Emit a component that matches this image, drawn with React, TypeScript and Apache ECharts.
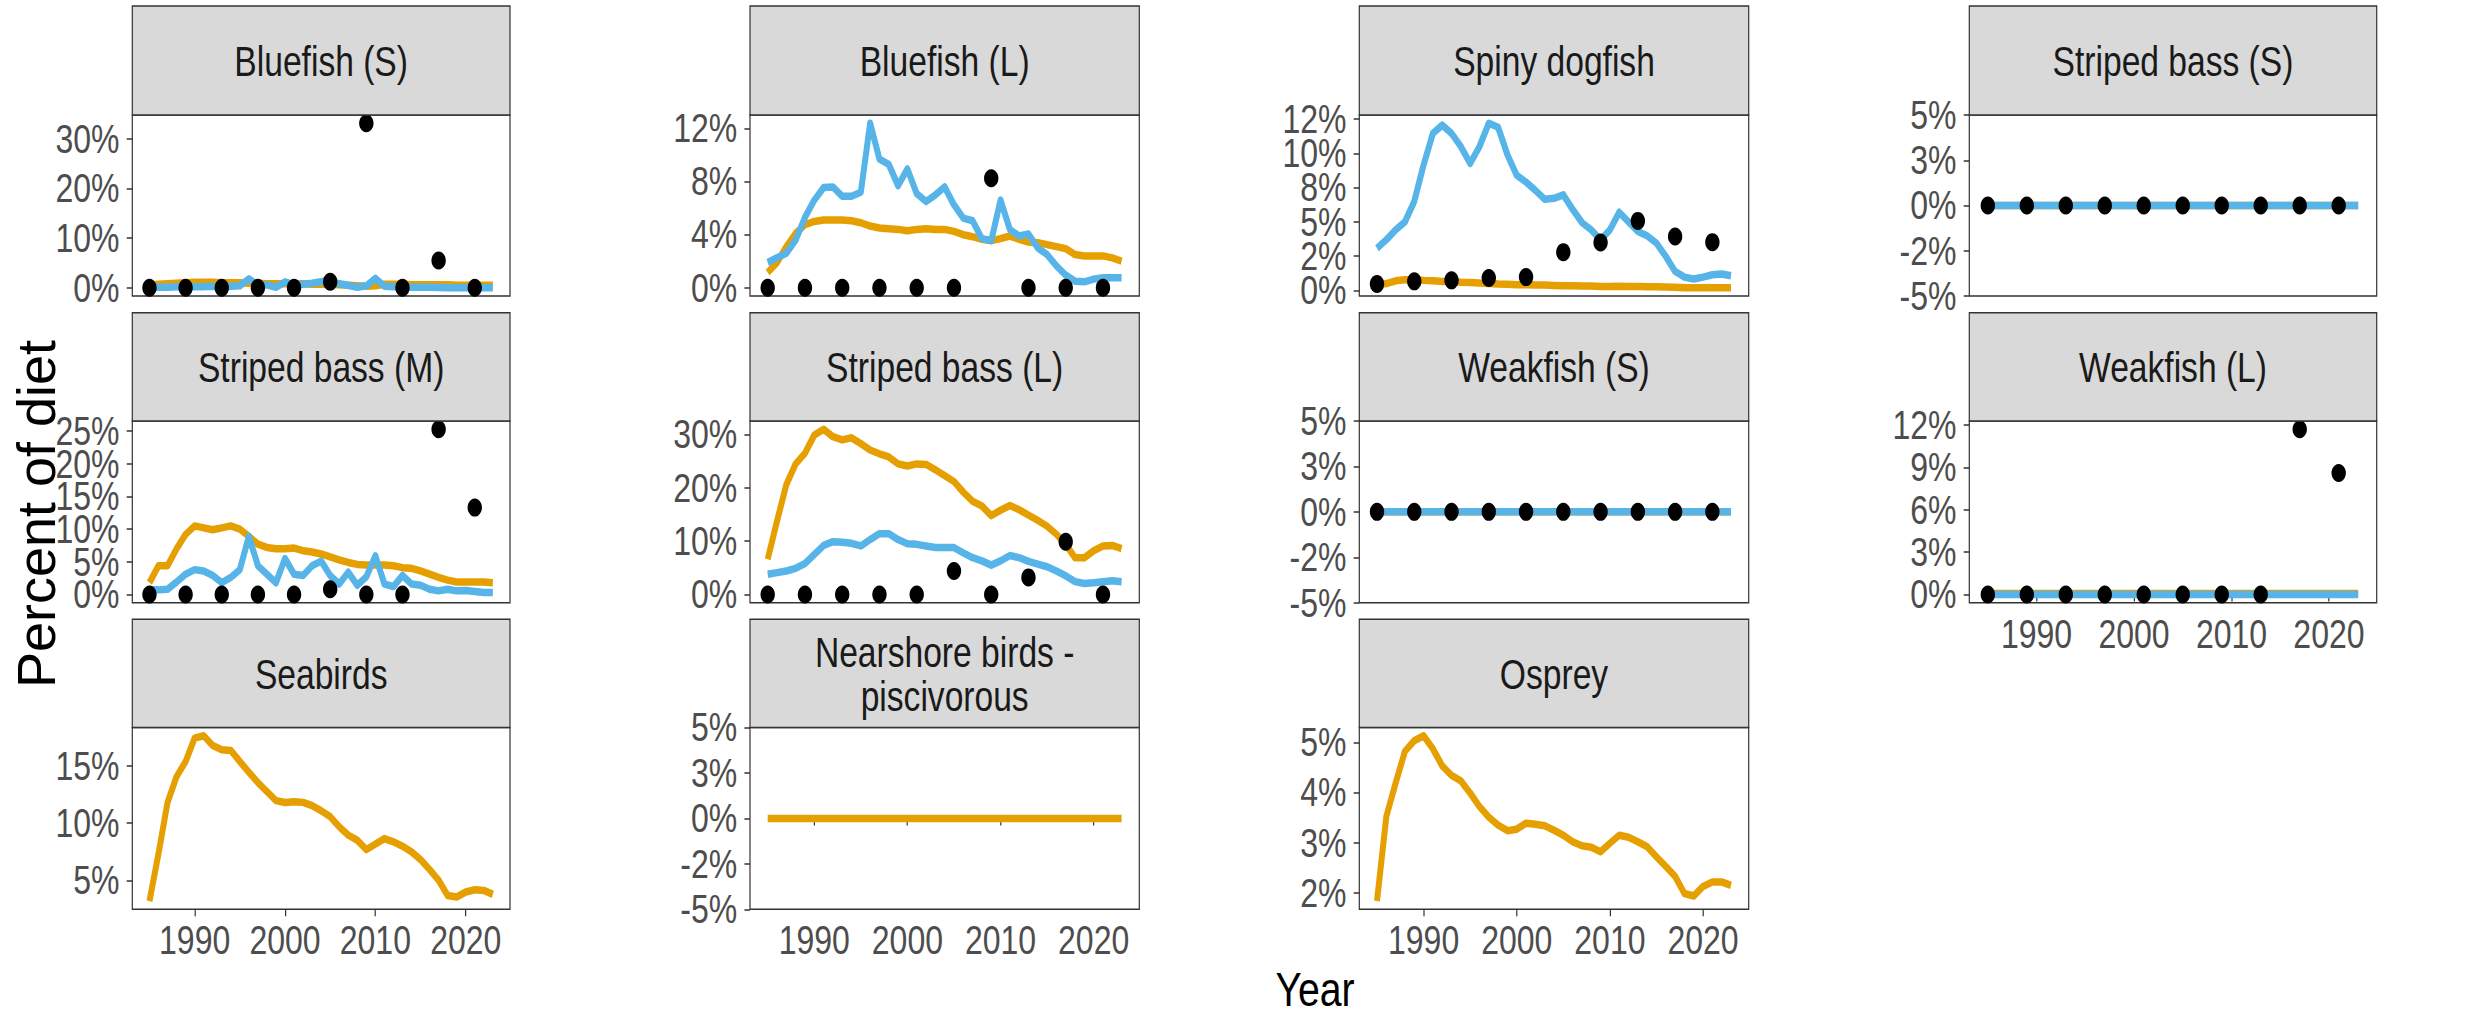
import React, { useEffect, useRef } from "react";
import * as echarts from "echarts";

// ---------------- DATA ----------------
const years = [
  1985, 1986, 1987, 1988, 1989, 1990, 1991, 1992, 1993, 1994,
  1995, 1996, 1997, 1998, 1999, 2000, 2001, 2002, 2003, 2004,
  2005, 2006, 2007, 2008, 2009, 2010, 2011, 2012, 2013, 2014,
  2015, 2016, 2017, 2018, 2019, 2020, 2021, 2022, 2023,
];
const surveyYears = [1985, 1989, 1993, 1997, 2001, 2005, 2009, 2013, 2017, 2021];

const xTickValues = [1990, 2000, 2010, 2020];
const xTickLabels = ["1990", "2000", "2010", "2020"];

const zeroLine = [
  0, 0, 0, 0, 0, 0, 0, 0, 0, 0,
  0, 0, 0, 0, 0, 0, 0, 0, 0, 0,
  0, 0, 0, 0, 0, 0, 0, 0, 0, 0,
  0, 0, 0, 0, 0, 0, 0, 0, 0,
];
const zeroObs = [0, 0, 0, 0, 0, 0, 0, 0, 0, 0];

// Bluefish (S)
const bluefishS_orange = [0.5, 0.7, 0.8, 0.9, 1.0, 1.1, 1.1, 1.1, 1.0, 1.0, 1.0, 0.9, 0.9, 0.8, 0.8, 0.8, 0.8, 0.8, 0.7, 0.7, 0.7, 0.6, 0.5, 0.4, 0.3, 0.4, 0.7, 0.7, 0.7, 0.6, 0.6, 0.6, 0.6, 0.6, 0.5, 0.5, 0.5, 0.5, 0.5];
const bluefishS_blue = [0.1, 0.1, 0.1, 0.2, 0.2, 0.2, 0.2, 0.3, 0.2, 0.3, 0.4, 1.8, 0.5, 0.6, 0.1, 1.2, 0.6, 0.7, 0.9, 1.2, 1.4, 0.8, 0.5, 0.1, 0.4, 1.9, 0.3, 0.2, 0.2, 0.1, 0.1, 0.1, 0.05, 0, 0, 0, 0, 0, 0];
const bluefishS_obs = [0, 0, 0, 0, 0, 1.2, 33.2, 0, 5.5, 0];
const bluefishS_ticks = [0, 10, 20, 30];
const bluefishS_labels = ["0%", "10%", "20%", "30%"];

// Bluefish (L)
const bluefishL_orange = [1.15, 1.9, 3.1, 4.1, 4.75, 5.0, 5.1, 5.1, 5.1, 5.05, 4.9, 4.65, 4.5, 4.45, 4.4, 4.3, 4.4, 4.45, 4.4, 4.4, 4.25, 4.0, 3.85, 3.65, 3.55, 3.7, 3.9, 3.65, 3.45, 3.4, 3.25, 3.1, 2.95, 2.5, 2.4, 2.4, 2.4, 2.25, 2.0];
const bluefishL_blue = [1.9, 2.27, 2.6, 3.6, 5.3, 6.6, 7.55, 7.6, 6.9, 6.9, 7.2, 12.4, 9.7, 9.3, 7.7, 8.95, 7.1, 6.5, 7.0, 7.6, 6.25, 5.25, 5.05, 3.7, 3.55, 6.6, 4.4, 3.9, 4.05, 3.0, 2.5, 1.65, 0.95, 0.5, 0.45, 0.65, 0.75, 0.75, 0.75];
const bluefishL_obs = [0, 0, 0, 0, 0, 0, 8.25, 0, 0, 0];
const bluefishL_ticks = [0, 4, 8, 12];
const bluefishL_labels = ["0%", "4%", "8%", "12%"];

// Spiny dogfish
const dogfish_orange = [0.4, 0.5, 0.7, 0.78, 0.78, 0.73, 0.7, 0.65, 0.65, 0.6, 0.58, 0.53, 0.5, 0.46, 0.44, 0.41, 0.41, 0.39, 0.39, 0.36, 0.34, 0.34, 0.32, 0.32, 0.29, 0.29, 0.3, 0.29, 0.29, 0.27, 0.27, 0.24, 0.22, 0.19, 0.19, 0.19, 0.19, 0.19, 0.19];
const dogfish_blue = [3.08, 3.69, 4.42, 5.0, 6.5, 9.15, 11.46, 12.06, 11.46, 10.5, 9.27, 10.5, 12.2, 11.9, 9.9, 8.4, 7.9, 7.3, 6.65, 6.72, 6.97, 5.92, 4.95, 4.42, 3.69, 4.42, 5.7, 5.0, 4.3, 3.98, 3.45, 2.48, 1.38, 0.97, 0.83, 0.97, 1.14, 1.19, 1.07];
const dogfish_obs = [0.46, 0.66, 0.73, 0.9, 0.97, 2.79, 3.5, 5.07, 3.93, 3.52];
const dogfish_ticks = [0, 2.5, 5, 7.5, 10, 12.5];
const dogfish_labels = ["0%", "2%", "5%", "8%", "10%", "12%"];

// symmetric ticks for all-zero panels
const zero_ticks = [-5, -2.5, 0, 2.5, 5];
const zero_labels = ["-5%", "-2%", "0%", "3%", "5%"];

// Striped bass (M)
const bassM_orange = [1.8, 4.4, 4.4, 7.0, 9.2, 10.5, 10.2, 9.9, 10.2, 10.5, 10.0, 8.9, 7.7, 7.2, 7.0, 7.0, 7.1, 6.7, 6.5, 6.2, 5.75, 5.3, 4.9, 4.6, 4.5, 4.5, 4.5, 4.4, 4.1, 4.0, 3.6, 3.1, 2.6, 2.2, 1.9, 1.9, 1.9, 1.9, 1.8];
const bassM_blue = [0.7, 0.7, 0.8, 1.9, 3.1, 3.8, 3.6, 2.9, 1.8, 2.6, 3.8, 8.9, 4.4, 3.1, 1.8, 5.5, 3.1, 2.9, 4.4, 5.1, 2.9, 1.6, 3.4, 1.4, 2.7, 5.9, 1.6, 1.2, 2.9, 1.6, 1.4, 0.8, 0.55, 0.8, 0.55, 0.6, 0.45, 0.3, 0.3];
const bassM_obs = [0, 0, 0, 0, 0, 0.8, 0, 0, 25.3, 13.3];
const bassM_ticks = [0, 5, 10, 15, 20, 25];
const bassM_labels = ["0%", "5%", "10%", "15%", "20%", "25%"];

// Striped bass (L)
const bassL_orange = [6.6, 13.75, 20.6, 24.5, 26.5, 29.9, 31.0, 29.6, 29.0, 29.4, 28.3, 27.1, 26.4, 25.8, 24.5, 24.1, 24.5, 24.4, 23.4, 22.3, 21.2, 19.2, 17.5, 16.6, 14.8, 15.8, 16.7, 15.9, 14.9, 13.9, 12.8, 11.3, 9.4, 6.9, 6.9, 8.2, 9.1, 9.2, 8.6];
const bassL_blue = [3.8, 4.1, 4.4, 4.9, 5.8, 7.5, 9.2, 9.9, 9.8, 9.6, 9.1, 10.3, 11.4, 11.4, 10.3, 9.5, 9.4, 9.1, 8.8, 8.8, 8.8, 7.8, 6.9, 6.3, 5.5, 6.3, 7.3, 6.9, 6.2, 5.7, 5.2, 4.4, 3.5, 2.4, 2.05, 2.2, 2.4, 2.55, 2.4];
const bassL_obs = [0, 0, 0, 0, 0, 4.4, 0, 3.2, 9.9, 0];
const bassL_ticks = [0, 10, 20, 30];
const bassL_labels = ["0%", "10%", "20%", "30%"];

// Weakfish (L)
const weakL_orange = [0.07, 0.07, 0.07, 0.07, 0.07, 0.07, 0.07, 0.07, 0.07, 0.07, 0.07, 0.07, 0.07, 0.07, 0.07, 0.07, 0.07, 0.07, 0.07, 0.07, 0.07, 0.07, 0.07, 0.07, 0.07, 0.07, 0.07, 0.07, 0.07, 0.07, 0.07, 0.07, 0.07, 0.07, 0.07, 0.07, 0.07, 0.07, 0.07];
const weakL_blue = zeroLine;
const weakL_obs = [0, 0, 0, 0, 0, 0, 0, 0, 11.7, 8.6];
const weakL_ticks = [0, 3, 6, 9, 12];
const weakL_labels = ["0%", "3%", "6%", "9%", "12%"];

// Seabirds
const seabirds_orange = [3.19, 7.34, 11.8, 14.06, 15.38, 17.43, 17.63, 16.78, 16.4, 16.35, 15.38, 14.44, 13.54, 12.75, 11.96, 11.8, 11.87, 11.81, 11.52, 11.08, 10.56, 9.68, 8.95, 8.5, 7.69, 8.16, 8.65, 8.36, 7.98, 7.49, 6.81, 5.94, 5.0, 3.68, 3.54, 3.98, 4.18, 4.12, 3.77];
const seabirds_ticks = [5, 10, 15];
const seabirds_labels = ["5%", "10%", "15%"];

// Osprey
const osprey_orange = [1.84, 3.52, 4.19, 4.82, 5.03, 5.13, 4.87, 4.53, 4.34, 4.23, 3.99, 3.72, 3.51, 3.35, 3.24, 3.27, 3.39, 3.37, 3.34, 3.25, 3.15, 3.02, 2.94, 2.91, 2.82, 2.99, 3.15, 3.11, 3.02, 2.92, 2.72, 2.53, 2.33, 1.99, 1.94, 2.13, 2.22, 2.22, 2.15];
const osprey_ticks = [2, 3, 4, 5];
const osprey_labels = ["2%", "3%", "4%", "5%"];

type Panel = {
  name: string;
  orange?: number[];
  blue?: number[];
  obs?: number[];
  yTicks: number[];
  yLabels: string[];
};

const panels: Panel[] = [
  { name: "Bluefish (S)", orange: bluefishS_orange, blue: bluefishS_blue, obs: bluefishS_obs, yTicks: bluefishS_ticks, yLabels: bluefishS_labels },
  { name: "Bluefish (L)", orange: bluefishL_orange, blue: bluefishL_blue, obs: bluefishL_obs, yTicks: bluefishL_ticks, yLabels: bluefishL_labels },
  { name: "Spiny dogfish", orange: dogfish_orange, blue: dogfish_blue, obs: dogfish_obs, yTicks: dogfish_ticks, yLabels: dogfish_labels },
  { name: "Striped bass (S)", orange: zeroLine, blue: zeroLine, obs: zeroObs, yTicks: zero_ticks, yLabels: zero_labels },
  { name: "Striped bass (M)", orange: bassM_orange, blue: bassM_blue, obs: bassM_obs, yTicks: bassM_ticks, yLabels: bassM_labels },
  { name: "Striped bass (L)", orange: bassL_orange, blue: bassL_blue, obs: bassL_obs, yTicks: bassL_ticks, yLabels: bassL_labels },
  { name: "Weakfish (S)", orange: zeroLine, blue: zeroLine, obs: zeroObs, yTicks: zero_ticks, yLabels: zero_labels },
  { name: "Weakfish (L)", orange: weakL_orange, blue: weakL_blue, obs: weakL_obs, yTicks: weakL_ticks, yLabels: weakL_labels },
  { name: "Seabirds", orange: seabirds_orange, yTicks: seabirds_ticks, yLabels: seabirds_labels },
  { name: "Nearshore birds -\npiscivorous", orange: zeroLine, yTicks: zero_ticks, yLabels: zero_labels },
  { name: "Osprey", orange: osprey_orange, yTicks: osprey_ticks, yLabels: osprey_labels },
];

// ---------------- LAYOUT ----------------
const W = 2491;
const H = 1016;
const SX = 0.8; // horizontal squeeze of the reference rendering
const CW = W / SX;

const COL_LEFT = [132.3, 750, 1359.3, 1969.3];
const COL_RIGHT = [510, 1139.3, 1748.7, 2376.7];
const STRIP_TOP = [6, 312.7, 619.3];
const PLOT_TOP = [115, 421, 727.5];
const PLOT_BOTTOM = [296, 602.7, 909.3];

const X_MIN = 1983.1;
const X_MAX = 2024.9;

const FONT = '"Liberation Sans", Arial, Helvetica, sans-serif';
const ORANGE = "#E69F00";
const BLUE = "#56B4E9";
const BORDER = "#333333";
const TICK_TEXT = "#4D4D4D";

function yRange(p: Panel): [number, number] {
  const all = [...(p.orange || []), ...(p.blue || []), ...(p.obs || [])];
  const lo = Math.min(...all);
  const hi = Math.max(...all);
  if (hi - lo < 1e-9) return [lo - 5, hi + 5];
  const e = (hi - lo) * 0.05;
  return [lo - e, hi + e];
}

function makeYAxis(p: Panel, i: number, parity: number, withTicks: boolean) {
  const [ymin, ymax] = yRange(p);
  const labelValues = p.yTicks.filter((_, k) => k % 2 === parity);
  return {
    type: "value",
    gridIndex: i,
    position: "left",
    offset: 0,
    min: ymin,
    max: ymax,
    axisLine: { show: false },
    splitLine: { show: false },
    axisTick: {
      show: withTicks,
      length: 7,
      customValues: p.yTicks,
      lineStyle: { color: BORDER, width: 1.5 },
    },
    axisLabel: {
      show: labelValues.length > 0,
      customValues: labelValues,
      showMinLabel: true,
      showMaxLabel: true,
      margin: 16,
      fontSize: 40,
      lineHeight: 30,
      color: TICK_TEXT,
      fontFamily: FONT,
      formatter: (v: number) => {
        const k = p.yTicks.indexOf(v);
        return k >= 0 ? p.yLabels[k] : "";
      },
    },
  };
}

function buildOption() {
  const grid: any[] = [];
  const xAxis: any[] = [];
  const yAxisMain: any[] = [];
  const yAxisAlt: any[] = [];
  const series: any[] = [];
  const graphic: any[] = [];

  panels.forEach((p, i) => {
    const col = i % 4;
    const row = Math.floor(i / 4);
    const left = COL_LEFT[col] / SX;
    const width = (COL_RIGHT[col] - COL_LEFT[col]) / SX;
    const top = PLOT_TOP[row];
    const height = PLOT_BOTTOM[row] - PLOT_TOP[row];
    const showX = row === 2 || (row === 1 && col === 3);

    grid.push({
      left,
      top,
      width,
      height,
      show: true,
      borderColor: BORDER,
      borderWidth: 1.5,
      backgroundColor: "#FFFFFF",
    });

    xAxis.push({
      type: "value",
      gridIndex: i,
      min: X_MIN,
      max: X_MAX,
      axisLine: { show: false },
      splitLine: { show: false },
      axisTick: {
        show: showX,
        length: 7,
        customValues: xTickValues,
        lineStyle: { color: BORDER, width: 1.5 },
      },
      axisLabel: {
        show: showX,
        customValues: xTickValues,
        showMinLabel: true,
        showMaxLabel: true,
        margin: 11,
        fontSize: 40,
        lineHeight: 40,
        color: TICK_TEXT,
        fontFamily: FONT,
        formatter: (v: number) => {
          const k = xTickValues.indexOf(v);
          return k >= 0 ? xTickLabels[k] : "";
        },
      },
    });

    // two y axes per panel (alternating labels) so that no label gets auto-hidden
    yAxisMain.push(makeYAxis(p, i, 0, true));
    yAxisAlt.push(makeYAxis(p, i, 1, false));

    if (p.orange) {
      series.push({
        type: "line",
        name: p.name + " estimate A",
        xAxisIndex: i,
        yAxisIndex: i,
        data: years.map((y, k) => [y, p.orange![k]]),
        symbol: "none",
        showSymbol: false,
        lineStyle: { color: ORANGE, width: 7.5, join: "round", cap: "butt" },
        z: 2,
        silent: true,
      });
    }
    if (p.blue) {
      series.push({
        type: "line",
        name: p.name + " estimate B",
        xAxisIndex: i,
        yAxisIndex: i,
        data: years.map((y, k) => [y, p.blue![k]]),
        symbol: "none",
        showSymbol: false,
        lineStyle: { color: BLUE, width: 7.5, join: "round", cap: "butt" },
        z: 3,
        silent: true,
      });
    }
    if (p.obs) {
      series.push({
        type: "scatter",
        name: p.name + " observed",
        xAxisIndex: i,
        yAxisIndex: i,
        data: surveyYears.map((y, k) => [y, p.obs![k]]),
        symbol: "circle",
        symbolSize: 18,
        itemStyle: { color: "#000000", opacity: 1 },
        z: 4,
        silent: true,
      });
    }

    // facet strip
    const stripTop = STRIP_TOP[row];
    const stripH = PLOT_TOP[row] - stripTop;
    graphic.push({
      type: "rect",
      shape: { x: left, y: stripTop, width, height: stripH },
      style: { fill: "#D9D9D9", stroke: BORDER, lineWidth: 1.5 },
      silent: true,
      z: 10,
    });
    graphic.push({
      type: "text",
      x: left + width / 2,
      y: stripTop + stripH / 2 + 1,
      style: {
        text: p.name,
        fontSize: 42,
        fontFamily: FONT,
        fill: "#1A1A1A",
        align: "center",
        verticalAlign: "middle",
        lineHeight: 44,
      },
      silent: true,
      z: 11,
    });
  });

  // axis titles
  graphic.push({
    type: "text",
    x: 45,
    y: 514,
    rotation: Math.PI / 2,
    scaleY: 1 / SX,
    style: {
      text: "Percent of diet",
      fontSize: 54,
      fontFamily: FONT,
      fill: "#000000",
      align: "center",
      verticalAlign: "middle",
    },
    silent: true,
  });
  graphic.push({
    type: "text",
    x: 1315 / SX,
    y: 989,
    style: {
      text: "Year",
      fontSize: 49,
      fontFamily: FONT,
      fill: "#000000",
      align: "center",
      verticalAlign: "middle",
    },
    silent: true,
  });

  return {
    animation: false,
    backgroundColor: "#FFFFFF",
    grid,
    xAxis,
    yAxis: [...yAxisMain, ...yAxisAlt],
    series,
    graphic,
  };
}

export default function App() {
  const ref = useRef<HTMLDivElement>(null);

  useEffect(() => {
    document.body.style.margin = "0";
    document.body.style.background = "#FFFFFF";
    if (!ref.current) return;
    const chart = echarts.init(ref.current, undefined, { renderer: "svg" });
    chart.setOption(buildOption() as any);
    return () => {
      chart.dispose();
    };
  }, []);

  return (
    <div style={{ width: W, height: H, overflow: "hidden", background: "#FFFFFF" }}>
      <div
        ref={ref}
        style={{
          width: CW,
          height: H,
          transform: `scaleX(${SX})`,
          transformOrigin: "0 0",
        }}
      />
    </div>
  );
}
